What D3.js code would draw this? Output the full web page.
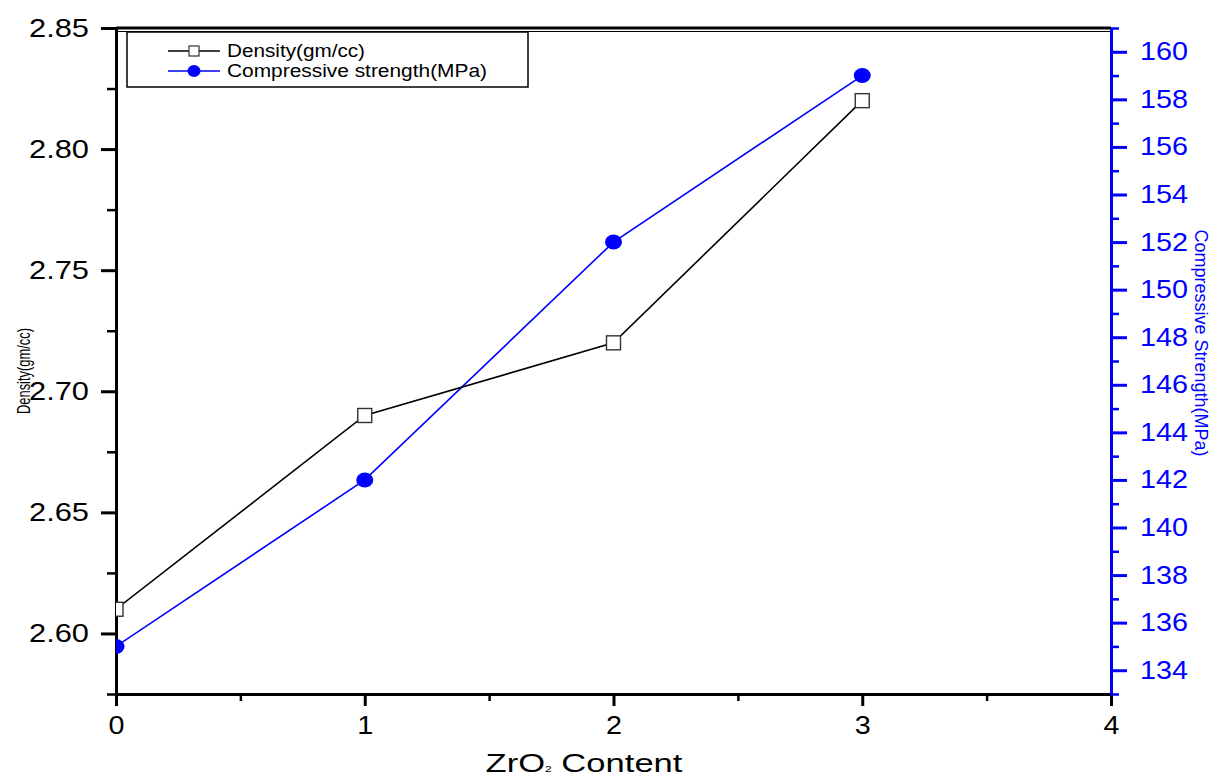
<!DOCTYPE html>
<html>
<head>
<meta charset="utf-8">
<script src="https://cdn.jsdelivr.net/npm/d3@7"></script>
<style>
  body { margin: 0; background: #fff; }
  svg { display: block; font-family: Arial, "Liberation Sans", sans-serif; }
</style>
</head>
<body>
<svg id="chart" width="1214" height="779"></svg>
<script>
// Data
const zrO2 = [0, 1, 2, 3];
const density = [2.61, 2.69, 2.72, 2.82];
const strength = [135, 142, 152, 159];
const leftTicks = [2.60, 2.65, 2.70, 2.75, 2.80, 2.85];
const rightTicks = [134, 136, 138, 140, 142, 144, 146, 148, 150, 152, 154, 156, 158, 160];
const xTicks = [0, 1, 2, 3, 4];

const svg = d3.select("#chart");
const L = 116, R = 1111, T = 28, B = 694;
const blue = "#0000ff";

const x = d3.scaleLinear().domain([0, 4]).range([L, R]);
const yL = d3.scaleLinear().domain([2.575, 2.85]).range([B, T]);
const yR = d3.scaleLinear().domain([133, 161]).range([B, T]);

// clip
svg.append("clipPath").attr("id", "clip")
  .append("rect").attr("x", L).attr("y", T).attr("width", R - L).attr("height", B - T);

// top border
svg.append("line").attr("x1", L).attr("x2", R).attr("y1", T).attr("y2", T)
  .attr("stroke", "#000").attr("stroke-width", 3);
svg.append("line").attr("x1", L).attr("x2", R).attr("y1", T + 3.5).attr("y2", T + 3.5)
  .attr("stroke", "#000").attr("stroke-width", 1);

// X axis
const xMinor = d3.range(0.5, 4, 1);
const gx = svg.append("g").attr("transform", `translate(0,${B})`);
gx.call(d3.axisBottom(x).tickValues(xTicks).tickFormat(d3.format("d")).tickSize(12).tickPadding(10));
gx.select(".domain").attr("stroke-width", 3);
gx.selectAll(".tick line").attr("stroke-width", 3);
gx.selectAll(".tick text").attr("font-size", 25).attr("fill", "#000")
  .attr("textLength", 16).attr("lengthAdjust", "spacingAndGlyphs");
const gxm = svg.append("g").attr("transform", `translate(0,${B})`);
gxm.call(d3.axisBottom(x).tickValues(xMinor).tickFormat("").tickSize(7));
gxm.select(".domain").remove();
gxm.selectAll(".tick line").attr("stroke-width", 2.5);

// Left axis
const gl = svg.append("g").attr("transform", `translate(${L},0)`);
gl.call(d3.axisLeft(yL).tickValues(leftTicks).tickFormat(d3.format(".2f")).tickSize(15).tickPadding(12).tickSizeOuter(0));
gl.select(".domain").attr("stroke-width", 3);
gl.selectAll(".tick line").attr("stroke-width", 3);
gl.selectAll(".tick text").attr("font-size", 25).attr("fill", "#000")
  .attr("textLength", 60).attr("lengthAdjust", "spacingAndGlyphs");
const glm = svg.append("g").attr("transform", `translate(${L},0)`);
glm.call(d3.axisLeft(yL).tickValues(d3.range(2.575, 2.85, 0.05)).tickFormat("").tickSize(9));
glm.select(".domain").remove();
glm.selectAll(".tick line").attr("stroke-width", 2.5);

// Right axis
const gr = svg.append("g").attr("transform", `translate(${R},0)`);
gr.call(d3.axisRight(yR).tickValues(rightTicks).tickFormat(d3.format("d")).tickSize(16).tickPadding(13).tickSizeOuter(0));
gr.select(".domain").attr("stroke", blue).attr("stroke-width", 3);
gr.selectAll(".tick line").attr("stroke", blue).attr("stroke-width", 3);
gr.selectAll(".tick text").attr("font-size", 25).attr("fill", blue)
  .attr("textLength", 48).attr("lengthAdjust", "spacingAndGlyphs");
const grm = svg.append("g").attr("transform", `translate(${R},0)`);
grm.call(d3.axisRight(yR).tickValues(d3.range(133, 162, 2)).tickFormat("").tickSize(8));
grm.select(".domain").remove();
grm.selectAll(".tick line").attr("stroke", blue).attr("stroke-width", 2.5);

// Data lines
const plot = svg.append("g").attr("clip-path", "url(#clip)");
const dData = zrO2.map((v, i) => [v, density[i]]);
const sData = zrO2.map((v, i) => [v, strength[i]]);

plot.append("path").datum(sData)
  .attr("d", d3.line().x(d => x(d[0])).y(d => yR(d[1])))
  .attr("fill", "none").attr("stroke", blue).attr("stroke-width", 1.6);
plot.append("path").datum(dData)
  .attr("d", d3.line().x(d => x(d[0])).y(d => yL(d[1])))
  .attr("fill", "none").attr("stroke", "#000").attr("stroke-width", 1.6);

plot.selectAll("ellipse.s").data(sData).enter().append("ellipse")
  .attr("cx", d => x(d[0])).attr("cy", d => yR(d[1]))
  .attr("rx", 8.5).attr("ry", 7.5).attr("fill", blue);
plot.selectAll("rect.d").data(dData).enter().append("rect")
  .attr("x", d => x(d[0]) - 7).attr("y", d => yL(d[1]) - 7)
  .attr("width", 14).attr("height", 14)
  .attr("fill", "#fff").attr("stroke", "#333").attr("stroke-width", 1.4);

// Legend
const lg = svg.append("g");
lg.append("rect").attr("x", 127).attr("y", 32).attr("width", 401).attr("height", 55)
  .attr("fill", "#fff").attr("stroke", "#000").attr("stroke-width", 1.5);
lg.append("line").attr("x1", 168).attr("x2", 220).attr("y1", 51).attr("y2", 51)
  .attr("stroke", "#000").attr("stroke-width", 1.4);
lg.append("rect").attr("x", 189).attr("y", 46).attr("width", 10).attr("height", 10)
  .attr("fill", "#fff").attr("stroke", "#333").attr("stroke-width", 1.2);
lg.append("line").attr("x1", 168).attr("x2", 220).attr("y1", 71).attr("y2", 71)
  .attr("stroke", blue).attr("stroke-width", 1.4);
lg.append("ellipse").attr("cx", 194).attr("cy", 71).attr("rx", 6.5).attr("ry", 6).attr("fill", blue);
lg.append("text").attr("x", 227).attr("y", 57).attr("font-size", 18)
  .attr("textLength", 138).attr("lengthAdjust", "spacingAndGlyphs").text("Density(gm/cc)");
lg.append("text").attr("x", 227).attr("y", 77).attr("font-size", 18)
  .attr("textLength", 260).attr("lengthAdjust", "spacingAndGlyphs").text("Compressive strength(MPa)");

// Axis titles
svg.append("text").attr("transform", "translate(30,371) rotate(-90)")
  .attr("text-anchor", "middle").attr("font-size", 18)
  .attr("textLength", 86).attr("lengthAdjust", "spacingAndGlyphs")
  .text("Density(gm/cc)");
svg.append("text").attr("transform", "translate(1195,343) rotate(90)")
  .attr("text-anchor", "middle").attr("font-size", 19).attr("fill", blue)
  .attr("textLength", 227).attr("lengthAdjust", "spacingAndGlyphs")
  .text("Compressive Strength(MPa)");

const xt = svg.append("text").attr("transform", "translate(584,772) scale(1.33,1)")
  .attr("text-anchor", "middle").attr("font-size", 26).attr("fill", "#000");
xt.append("tspan").text("ZrO");
xt.append("tspan").attr("font-size", 9).text("2");
xt.append("tspan").text(" Content");
</script>
</body>
</html>
